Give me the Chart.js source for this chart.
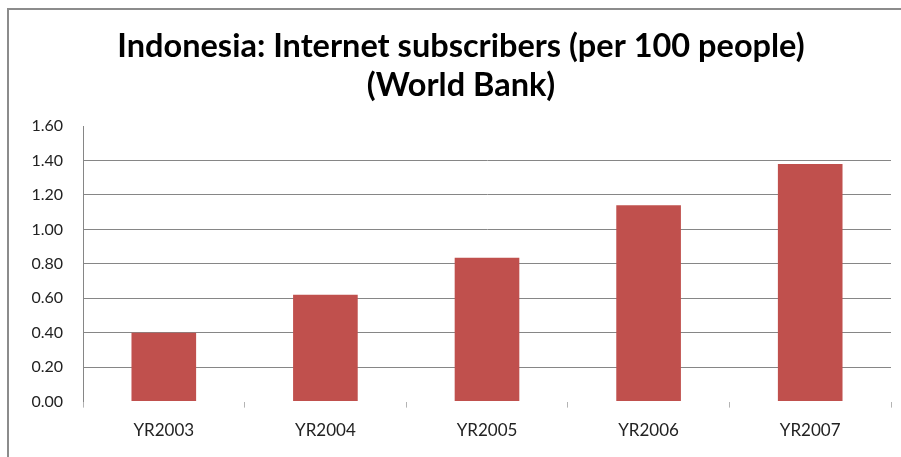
<!DOCTYPE html>
<html>
<head>
<meta charset="utf-8">
<script src="https://cdn.jsdelivr.net/npm/chart.js@4"></script>
<style>
  html, body { margin: 0; padding: 0; background: #fff; overflow: hidden; }
  body { width: 901px; height: 457px; position: relative; }
  .frame {
    position: absolute; left: 7px; top: 8px; width: 930px; height: 470px;
    border: 2px solid #8c8c8c; box-sizing: border-box;
  }
  #chart { position: absolute; left: 0; top: 0; }
</style>
</head>
<body>
<div class="frame"></div>
<canvas id="chart" width="922" height="457"></canvas>
<script>
const years = ['YR2003', 'YR2004', 'YR2005', 'YR2006', 'YR2007'];
const subscribers = [0.40, 0.62, 0.835, 1.14, 1.38];
const titleLines = ['Indonesia: Internet subscribers (per 100 people)', '(World Bank)'];

const ctx = document.getElementById('chart').getContext('2d');
new Chart(ctx, {
  type: 'bar',
  data: {
    labels: years,
    datasets: [{
      label: 'Internet subscribers',
      data: subscribers,
      backgroundColor: '#C0504D',
      borderWidth: 0,
      categoryPercentage: 1,
      barPercentage: 0.4
    }]
  },
  options: {
    responsive: false,
    animation: false,
    layout: { padding: { left: 31, right: 31, top: 0, bottom: 3 } },
    plugins: {
      legend: { display: false },
      tooltip: { enabled: false },
      title: {
        display: true,
        text: titleLines,
        color: '#000',
        font: { family: 'Lato', size: 32.5, weight: 'bold', lineHeight: 1.17 },
        padding: { top: 28, bottom: 22 }
      }
    },
    scales: {
      x: {
        grid: {
          drawOnChartArea: false,
          drawTicks: true,
          tickLength: 6,
          color: '#b4b4b4'
        },
        border: { display: false },
        ticks: {
          color: '#222',
          padding: 13,
          font: { family: 'Lato', size: 17 }
        }
      },
      y: {
        min: 0,
        max: 1.6,
        afterFit: (scale) => { scale.width = 52; },
        grid: {
          drawTicks: false,
          color: (c) => (c.tick && (c.tick.value === 0 || c.tick.value >= 1.6)) ? 'rgba(0,0,0,0)' : '#868686'
        },
        border: { display: true, color: '#868686' },
        ticks: {
          stepSize: 0.2,
          padding: 20,
          color: '#222',
          font: { family: 'Lato', size: 16 },
          callback: (v) => Number(v).toFixed(2)
        }
      }
    }
  }
});
</script>
</body>
</html>
